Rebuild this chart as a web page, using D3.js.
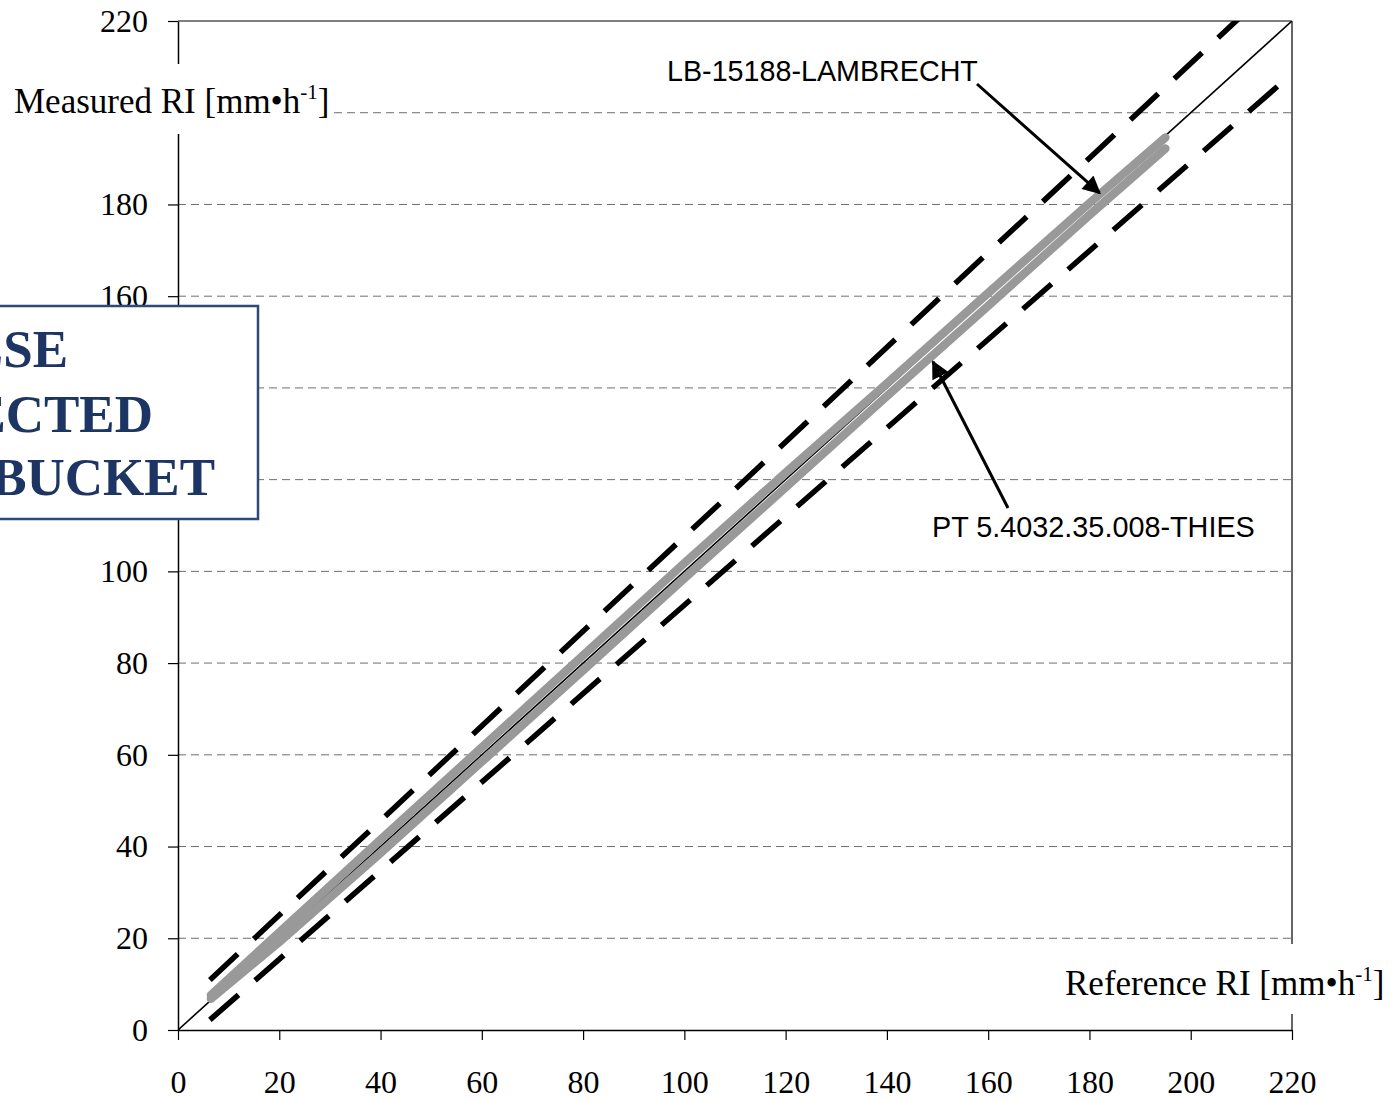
<!DOCTYPE html>
<html>
<head>
<meta charset="utf-8">
<script src="https://cdn.jsdelivr.net/npm/d3@7"></script>
<style>
  html, body { margin: 0; padding: 0; background: #fff; }
  svg { display: block; }
</style>
</head>
<body>
<svg id="chart" width="1394" height="1100"></svg>
<script>
// Axis ticks (mm·h⁻¹)
const xTicks = [0, 20, 40, 60, 80, 100, 120, 140, 160, 180, 200, 220];
const yTicks = [0, 20, 40, 60, 80, 100, 120, 140, 160, 180, 200, 220];

// Reference intensity at which each gauge was compared
const refRI = [6.5, 20, 40, 60, 80, 100, 120, 140, 160, 180, 195];
// Measured intensity – LB-15188-LAMBRECHT
const lambrecht = [7.6, 21.3, 41.5, 61.6, 81.7, 101.8, 121.5, 141.0, 160.7, 180.3, 194.6];
// Measured intensity – PT 5.4032.35.008-THIES
const thies = [6.8, 19.2, 38.6, 58.5, 78.4, 98.5, 118.3, 138.2, 157.9, 177.7, 192.2];

// Tolerance band limits (reference, measured) end points
const upperLimitRef = [6.3, 220];
const upperLimitVal = [10.9, 231.4];
const lowerLimitRef = [6.3, 220];
const lowerLimitVal = [2.2, 208.5];

// 1:1 line
const identityRef = [0, 220];
const identityVal = [0, 220];

// Box caption lines
const captionLines = ["LSE", "ECTED", "BUCKET"];

const svg = d3.select("#chart");
const serif = "'Liberation Serif', 'Times New Roman', serif";
const sans = "'Liberation Sans', Arial, sans-serif";

const x = d3.scaleLinear().domain([0, 220]).range([178, 1292]);
const y = d3.scaleLinear().domain([0, 220]).range([1030, 21]);

const defs = svg.append("defs");
defs.append("clipPath").attr("id", "plotClip")
  .append("rect")
  .attr("x", x(0)).attr("y", y(220))
  .attr("width", x(220) - x(0)).attr("height", y(0) - y(220));

defs.append("marker")
  .attr("id", "arrowHead")
  .attr("viewBox", "0 0 10 10")
  .attr("refX", 9).attr("refY", 5)
  .attr("markerWidth", 7).attr("markerHeight", 6)
  .attr("markerUnits", "strokeWidth")
  .attr("orient", "auto")
  .append("path")
  .attr("d", "M0,0 L10,5 L0,10 Z")
  .attr("fill", "#000");

// Horizontal grid lines
svg.append("g")
  .selectAll("line")
  .data(yTicks.filter(v => v > 0 && v < 220))
  .join("line")
  .attr("x1", x(0)).attr("x2", x(220))
  .attr("y1", d => y(d)).attr("y2", d => y(d))
  .attr("stroke", "#6e6e6e")
  .attr("stroke-width", 1)
  .attr("stroke-dasharray", "8,5");

// Plot frame (top and right)
svg.append("line")
  .attr("x1", x(0)).attr("x2", x(220))
  .attr("y1", y(220)).attr("y2", y(220))
  .attr("stroke", "#000").attr("stroke-width", 1.2);
svg.append("line")
  .attr("x1", x(220)).attr("x2", x(220))
  .attr("y1", y(220)).attr("y2", y(0))
  .attr("stroke", "#000").attr("stroke-width", 1.2);

// Axes
const yAxis = d3.axisLeft(y).tickValues(yTicks).tickSize(10).tickSizeOuter(0).tickPadding(20);
const xAxis = d3.axisBottom(x).tickValues(xTicks).tickSize(10).tickSizeOuter(0).tickPadding(30);

const gy = svg.append("g").attr("transform", `translate(${x(0)},0)`).call(yAxis);
const gx = svg.append("g").attr("transform", `translate(0,${y(0)})`).call(xAxis);
[gx, gy].forEach(g => {
  g.selectAll("path.domain").attr("stroke", "#000").attr("stroke-width", 1.5);
  g.selectAll(".tick line").attr("stroke", "#000").attr("stroke-width", 1.2);
  g.selectAll(".tick text")
    .attr("font-family", serif)
    .attr("font-size", 32)
    .attr("fill", "#000");
});

const plot = svg.append("g").attr("clip-path", "url(#plotClip)");
const toPts = (xs, ys) => xs.map((v, i) => [v, ys[i]]);
const line = d3.line().x(d => x(d[0])).y(d => y(d[1]));

// Tolerance limits
plot.append("path")
  .datum(toPts(upperLimitRef, upperLimitVal))
  .attr("d", line)
  .attr("fill", "none").attr("stroke", "#000")
  .attr("stroke-width", 5.5).attr("stroke-dasharray", "38,22");
plot.append("path")
  .datum(toPts(lowerLimitRef, lowerLimitVal))
  .attr("d", line)
  .attr("fill", "none").attr("stroke", "#000")
  .attr("stroke-width", 5.5).attr("stroke-dasharray", "38,22");

// 1:1 line
plot.append("path")
  .datum(toPts(identityRef, identityVal))
  .attr("d", line)
  .attr("fill", "none").attr("stroke", "#000").attr("stroke-width", 1.6);

// Gauge responses
[lambrecht, thies].forEach(series => {
  plot.append("path")
    .datum(toPts(refRI, series))
    .attr("d", line)
    .attr("fill", "none").attr("stroke", "#999999")
    .attr("stroke-width", 8.5).attr("stroke-linecap", "round")
    .attr("stroke-linejoin", "round");
});

// Axis titles with white backing
function axisTitle(tx, ty, bg, main) {
  svg.append("rect")
    .attr("x", bg[0]).attr("y", bg[1]).attr("width", bg[2]).attr("height", bg[3])
    .attr("fill", "#fff");
  const t = svg.append("text")
    .attr("x", tx).attr("y", ty)
    .attr("font-family", serif).attr("font-size", 35).attr("fill", "#000");
  t.append("tspan").text(main);
  t.append("tspan").attr("font-size", 21).attr("dy", -14).text("-1");
  t.append("tspan").attr("dy", 14).text("]");
}
axisTitle(14, 113, [0, 64, 331, 70], "Measured RI [mm•h");
axisTitle(1065, 995, [1058, 944, 336, 70], "Reference RI [mm•h");

// Callout labels with arrows
svg.append("text")
  .attr("x", 667).attr("y", 81)
  .attr("font-family", sans).attr("font-size", 28.7).attr("fill", "#000")
  .text("LB-15188-LAMBRECHT");
svg.append("line")
  .attr("x1", 977).attr("y1", 84).attr("x2", x(182)).attr("y2", y(182.5))
  .attr("stroke", "#000").attr("stroke-width", 3)
  .attr("marker-end", "url(#arrowHead)");

svg.append("text")
  .attr("x", 932).attr("y", 537)
  .attr("font-family", sans).attr("font-size", 28.8).attr("fill", "#000")
  .text("PT 5.4032.35.008-THIES");
svg.append("line")
  .attr("x1", 1008).attr("y1", 508).attr("x2", x(149.1)).attr("y2", y(145.7))
  .attr("stroke", "#000").attr("stroke-width", 3)
  .attr("marker-end", "url(#arrowHead)");

// Caption box
svg.append("rect")
  .attr("x", -10).attr("y", 306).attr("width", 268).attr("height", 213)
  .attr("fill", "#fff").attr("stroke", "#2c4a7c").attr("stroke-width", 2.5);
const capEnds = [68, 153, 215];
const capBase = [367, 432, 495];
svg.append("g")
  .selectAll("text")
  .data(captionLines)
  .join("text")
  .attr("x", (d, i) => capEnds[i])
  .attr("y", (d, i) => capBase[i])
  .attr("text-anchor", "end")
  .attr("font-family", serif).attr("font-weight", "bold")
  .attr("font-size", 53).attr("fill", "#1c3563")
  .text(d => d);
</script>
</body>
</html>
